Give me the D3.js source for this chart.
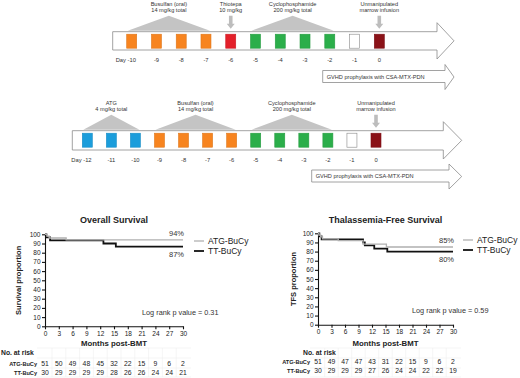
<!DOCTYPE html>
<html>
<head>
<meta charset="utf-8">
<script src="https://cdn.jsdelivr.net/npm/d3@7"></script>
<style>
  body { margin: 0; background: #fff; }
  svg { font-family: "Liberation Sans", Arial, sans-serif; display: block; }
</style>
</head>
<body>
<div id="chart"></div>
<script>
// conditioning schedules
const days1 = [-10, -9, -8, -7, -6, -5, -4, -3, -2, -1, 0];
const agents1 = ["Bu", "Bu", "Bu", "Bu", "TT", "Cy", "Cy", "Cy", "Cy", "", "BM"];
const days2 = [-12, -11, -10, -9, -8, -7, -6, -5, -4, -3, -2, -1, 0];
const agents2 = ["ATG", "ATG", "ATG", "Bu", "Bu", "Bu", "Bu", "Cy", "Cy", "Cy", "Cy", "", "BM"];
const doses1 = [["Bu", "Busulfan (oral)", "14 mg/kg total"], ["Cy", "Cyclophosphamide", "200 mg/kg total"]];
const doses2 = [["ATG", "ATG", "4 mg/kg total"], ["Bu", "Busulfan (oral)", "14 mg/kg total"], ["Cy", "Cyclophosphamide", "200 mg/kg total"]];
const pointers1 = [["TT", "Thiotepa", "10 mg/kg"], ["BM", "Unmanipulated", "marrow infusion"]];
const pointers2 = [["BM", "Unmanipulated", "marrow infusion"]];
const gvhdText = "GVHD prophylaxis with CSA-MTX-PDN";

// Kaplan-Meier steps [month, %]
const osATG = [[0, 100], [0.4, 98], [0.9, 96], [4.6, 94], [30, 94]];
const osTT = [[0, 100], [0.3, 96.7], [1.1, 93.3], [12.7, 90], [15.4, 86.7], [30, 86.7]];
const tfsATG = [[0, 100], [0.2, 98], [0.6, 96], [1.0, 94], [4.5, 92], [10, 88.2], [15.2, 85], [30, 85]];
const tfsTT = [[0, 100], [0.3, 96.7], [0.8, 93.3], [10, 90], [10.4, 86.7], [12.5, 83.3], [15.4, 80], [30, 80]];

const monthTicks = [0, 3, 6, 9, 12, 15, 18, 21, 24, 27, 30];
const pctTicks = [0, 10, 20, 30, 40, 50, 60, 70, 80, 90, 100];
const riskOS_ATG = [51, 50, 49, 48, 45, 32, 22, 15, 9, 6, 2];
const riskOS_TT = [30, 29, 29, 29, 29, 28, 26, 26, 24, 24, 21];
const riskTFS_ATG = [51, 49, 47, 47, 43, 31, 22, 15, 9, 6, 2];
const riskTFS_TT = [30, 29, 29, 29, 27, 26, 24, 24, 22, 22, 19];

const colors = {ATG: "#1b9ddb", Bu: "#f7841f", TT: "#e3202a", Cy: "#2bae4a", BM: "#8a1218", "": "#fff"};

var svg = d3.select("#chart").append("svg")
  .attr("width", 520)
  .attr("height", 378);

svg.append("rect").attr("width", 520).attr("height", 378).attr("fill", "#fff");

function blockArrow(g, left, top, bot, shaftEnd, headTop, headBot, tip) {
  var mid = (headTop + headBot) / 2;
  g.append("path")
    .attr("d", `M${left},${top}H${shaftEnd}V${headTop}L${tip},${mid}L${shaftEnd},${headBot}V${bot}H${left}Z`)
    .attr("fill", "#fff")
    .attr("stroke", "#8a8a8a")
    .attr("stroke-width", 0.8);
}

function schema(o) {
  var g = svg.append("g");
  var x = d3.scaleLinear().domain(d3.extent(o.days)).range(o.range);

  blockArrow(g, o.left, o.top, o.bot, o.shaftEnd, o.top - 9, o.bot + 9, o.tip);
  blockArrow(g, o.gLeft, o.gTop, o.gTop + 12, o.gEnd, o.gTop - 6, o.gTop + 19, o.tip);
  g.append("text")
    .attr("x", o.gLeft + 4).attr("y", o.gTop + 8)
    .attr("font-size", 5.6).attr("fill", "#333")
    .text(gvhdText);

  // daily squares
  g.selectAll("rect.day").data(o.days).enter().append("rect")
    .attr("x", d => x(d) - 5)
    .attr("y", o.top + 2.5)
    .attr("width", 10)
    .attr("height", 14)
    .attr("fill", (d, i) => colors[o.agents[i]])
    .attr("stroke", (d, i) => o.agents[i] === "" ? "#888" : d3.color(colors[o.agents[i]]).darker(0.3))
    .attr("stroke-width", 0.6);

  g.selectAll("text.day").data(o.days).enter().append("text")
    .attr("x", (d, i) => i === 0 ? x(d) - 16 : x(d))
    .attr("y", o.bot + 12)
    .attr("text-anchor", (d, i) => i === 0 ? "start" : "middle")
    .attr("font-size", 5.8).attr("fill", "#333")
    .text((d, i) => i === 0 ? "Day " + d : d);

  // dose triangles
  o.doses.forEach(function(r) {
    var ds = o.days.filter((d, i) => o.agents[i] === r[0]);
    var x0 = x(d3.min(ds)) - 4, x1 = x(d3.max(ds)) + 4, xm = (x0 + x1) / 2;
    g.append("path")
      .attr("d", `M${x0},${o.top - 1}L${xm},${o.top - 16}L${x1},${o.top - 1}Z`)
      .attr("fill", "#c4c4c4");
    g.append("text").attr("x", xm).attr("y", o.top - 26)
      .attr("text-anchor", "middle").attr("font-size", 5.6).attr("fill", "#333").text(r[1]);
    g.append("text").attr("x", xm).attr("y", o.top - 19.5)
      .attr("text-anchor", "middle").attr("font-size", 5.6).attr("fill", "#333").text(r[2]);
  });

  // single-day pointers
  o.pointers.forEach(function(r) {
    var xd = x(o.days[o.agents.indexOf(r[0])]);
    g.append("path")
      .attr("d", `M${xd - 1.8},${o.top - 16}H${xd + 1.8}V${o.top - 8}H${xd + 4}L${xd},${o.top - 3}L${xd - 4},${o.top - 8}H${xd - 1.8}Z`)
      .attr("fill", "#bdbdbd");
    g.append("text").attr("x", xd).attr("y", o.top - 26)
      .attr("text-anchor", "middle").attr("font-size", 5.6).attr("fill", "#333").text(r[1]);
    g.append("text").attr("x", xd).attr("y", o.top - 19.5)
      .attr("text-anchor", "middle").attr("font-size", 5.6).attr("fill", "#333").text(r[2]);
  });
}

schema({days: days1, agents: agents1, doses: doses1, pointers: pointers1,
  range: [131.7, 379.3], left: 112.7, top: 31.7, bot: 50, shaftEnd: 437, tip: 454,
  gLeft: 322.7, gTop: 70.5, gEnd: 445});
schema({days: days2, agents: agents2, doses: doses2, pointers: pointers2,
  range: [87.3, 376], left: 72.3, top: 130.7, bot: 150, shaftEnd: 443.3, tip: 461.7,
  gLeft: 311.7, gTop: 170, gEnd: 449});

function km(o) {
  var g = svg.append("g");
  var x = d3.scaleLinear().domain([0, 30]).range(o.xr);
  var y = d3.scaleLinear().domain([0, 100]).range(o.yr);

  g.append("text").attr("x", (o.xr[0] + o.xr[1]) / 2).attr("y", 223)
    .attr("text-anchor", "middle").attr("font-size", 9).attr("font-weight", "bold")
    .attr("fill", "#222").text(o.title);

  g.append("text")
    .attr("transform", `translate(${o.ylabX},${(o.yr[0] + o.yr[1]) / 2}) rotate(-90)`)
    .attr("text-anchor", "middle").attr("font-size", 7.5).attr("font-weight", "bold")
    .attr("fill", "#222").text(o.ylab);

  var ax = g.append("g").attr("transform", `translate(0,${o.yr[0]})`)
    .call(d3.axisBottom(x).tickValues(monthTicks).tickSize(3).tickPadding(2).tickSizeOuter(0));
  var ay = g.append("g").attr("transform", `translate(${o.xr[0]},0)`)
    .call(d3.axisLeft(y).tickValues(pctTicks).tickSize(3).tickPadding(1.5).tickSizeOuter(0));
  [ax, ay].forEach(a => {
    a.selectAll("path, line").attr("stroke", "#111").attr("stroke-width", 1.1);
    a.selectAll("text").attr("font-size", 6.5).attr("fill", "#222").attr("font-family", null);
  });

  g.append("text").attr("x", (o.xr[0] + o.xr[1]) / 2).attr("y", 346)
    .attr("text-anchor", "middle").attr("font-size", 7.8).attr("font-weight", "bold")
    .attr("fill", "#222").text("Months post-BMT");

  var line = d3.line().x(d => x(d[0])).y(d => y(d[1])).curve(d3.curveStepAfter);
  g.append("path").datum(o.tt).attr("d", line)
    .attr("fill", "none").attr("stroke", "#111").attr("stroke-width", 1.8);
  g.append("path").datum(o.atg).attr("d", line)
    .attr("fill", "none").attr("stroke", "#b0b0b0").attr("stroke-width", 1.3);

  var atgEnd = o.atg[o.atg.length - 1][1], ttEnd = o.tt[o.tt.length - 1][1];
  g.append("text").attr("x", x(30) + 1).attr("y", y(atgEnd) - 4)
    .attr("text-anchor", "end").attr("font-size", 7.5).attr("fill", "#333").text(Math.round(atgEnd) + "%");
  g.append("text").attr("x", x(30) + 1).attr("y", y(ttEnd) + 10)
    .attr("text-anchor", "end").attr("font-size", 7.5).attr("fill", "#333").text(Math.round(ttEnd) + "%");

  // legend
  [["ATG-BuCy", "#b0b0b0", 1.3, 0], ["TT-BuCy", "#111", 1.8, 10]].forEach(function(l) {
    g.append("line").attr("x1", o.legX).attr("x2", o.legX + 10)
      .attr("y1", o.legY + l[3]).attr("y2", o.legY + l[3])
      .attr("stroke", l[1]).attr("stroke-width", l[2]);
    g.append("text").attr("x", o.legX + 14).attr("y", o.legY + l[3] + 3)
      .attr("font-size", 8.5).attr("fill", "#222").text(l[0]);
  });

  g.append("text").attr("x", o.pX).attr("y", o.pY)
    .attr("font-size", 7.3).attr("fill", "#333").text(o.pText);

  // number at risk
  var rows = [o.riskATG, o.riskTT];
  monthTicks.forEach(function(m, i) {
    if (i > 0) g.append("line").attr("x1", x(m) - 6.8).attr("x2", x(m) - 6.8)
      .attr("y1", 348).attr("y2", 377).attr("stroke", "#eeeeee").attr("stroke-width", 0.6);
  });
  [348, 358, 368, 377].forEach(function(yy) {
    g.append("line").attr("x1", o.xr[0] - 8).attr("x2", o.xr[1] + 8).attr("y1", yy).attr("y2", yy)
      .attr("stroke", "#eeeeee").attr("stroke-width", 0.6);
  });
  g.append("text").attr("x", o.riskX).attr("y", 355)
    .attr("font-size", 6.8).attr("font-weight", "bold").attr("fill", "#222").text("No. at risk");
  ["ATG-BuCy", "TT-BuCy"].forEach(function(name, r) {
    var yy = o.rowY + r * 9.5;
    g.append("text").attr("x", o.xr[0] - 8).attr("y", yy)
      .attr("text-anchor", "end").attr("font-size", 5.6).attr("font-weight", "bold")
      .attr("fill", "#222").text(name);
    g.selectAll(null).data(rows[r]).enter().append("text")
      .attr("x", (d, i) => x(monthTicks[i]))
      .attr("y", yy)
      .attr("text-anchor", "middle").attr("font-size", 6.8).attr("fill", "#222")
      .text(d => d);
  });
}

km({title: "Overall Survival", ylab: "Survival proportion", ylabX: 21,
  xr: [45, 183], yr: [326.3, 234.3], atg: osATG, tt: osTT,
  legX: 194, legY: 241, pX: 142, pY: 314.5, pText: "Log rank p value = 0.31",
  riskATG: riskOS_ATG, riskTT: riskOS_TT, riskX: 1, rowY: 365.5});
km({title: "Thalassemia-Free Survival", ylab: "TFS proportion", ylabX: 296,
  xr: [318, 453], yr: [324.7, 233.3], atg: tfsATG, tt: tfsTT,
  legX: 463, legY: 240, pX: 412, pY: 312.5, pText: "Log rank p value = 0.59",
  riskATG: riskTFS_ATG, riskTT: riskTFS_TT, riskX: 303, rowY: 363.8});
</script>
</body>
</html>
